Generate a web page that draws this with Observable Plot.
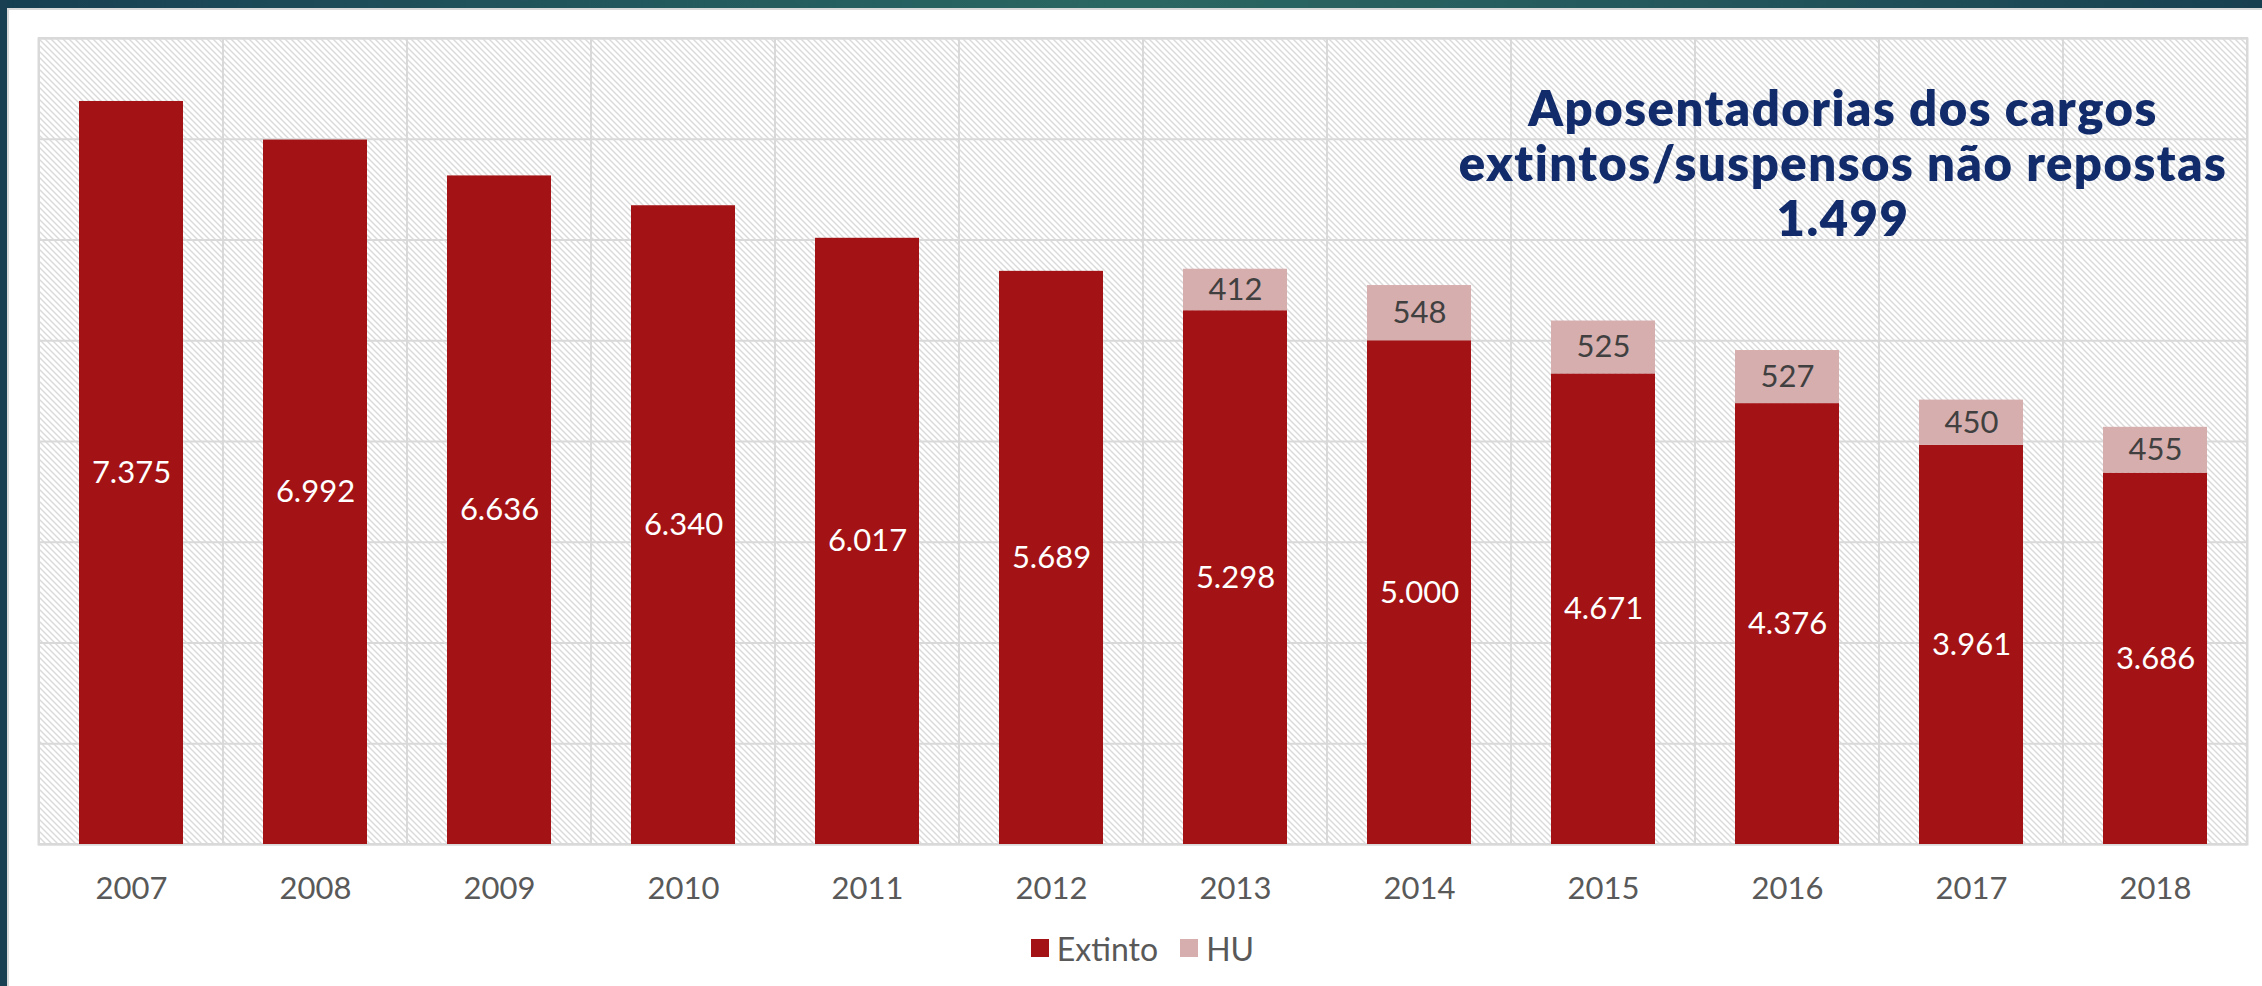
<!DOCTYPE html>
<html>
<head>
<meta charset="utf-8">
<script src="https://cdn.jsdelivr.net/npm/d3@7"></script>
<script src="https://cdn.jsdelivr.net/npm/@observablehq/plot@0.6"></script>
<style>
  html, body { margin: 0; padding: 0; background: #fff; overflow: hidden; }
  #page { position: relative; width: 2262px; height: 986px; background: #fff; font-family: Lato, "Open Sans", sans-serif; }
  #chart { position: absolute; left: 0; top: 0; }
  #chart svg { background: transparent; }
  .band-top { position: absolute; left: 0; top: 0; width: 2262px; height: 8px;
    background: linear-gradient(90deg, #173f52 0%, #235a5e 30%, #2b6762 50%, #23575c 75%, #173f50 100%); z-index: 3; }
  .band-left { position: absolute; left: 0; top: 0; width: 7px; height: 986px; background: #183f52; z-index: 3; }
  .line-top { position: absolute; left: 7px; top: 8px; width: 2255px; height: 2px; background: #d9d9d9; z-index: 2; }
  .line-left { position: absolute; left: 7px; top: 8px; width: 2px; height: 978px; background: #d9d9d9; z-index: 2; }
  #title { position: absolute; left: 1843px; top: 80px; transform: translateX(-50%); text-align: center;
    font-family: Lato, sans-serif; font-weight: 800; font-size: 49px; letter-spacing: 1.5px; line-height: 55px; color: #112b6b; white-space: nowrap; z-index: 4; }
  #legend { position: absolute; left: 38px; width: 2209px; top: 928px; height: 40px; display: flex; justify-content: center;
    align-items: center; font-family: Lato, sans-serif; font-size: 32px; color: #595959; z-index: 4; }
  #legend .item { display: flex; align-items: center; margin: 0 11px; }
  #legend .sw { width: 18px; height: 18px; margin-right: 8px; }
</style>
</head>
<body>
<div id="page">
  <div id="chart"></div>
  <div class="band-top"></div>
  <div class="band-left"></div>
  <div class="line-top"></div>
  <div class="line-left"></div>
  <div id="title">Aposentadorias dos cargos<br>extintos/suspensos não repostas<br>1.499</div>
  <div id="legend"></div>
</div>
<script>
const years = [2007, 2008, 2009, 2010, 2011, 2012, 2013, 2014, 2015, 2016, 2017, 2018];
const extinto = [7375, 6992, 6636, 6340, 6017, 5689, 5298, 5000, 4671, 4376, 3961, 3686];
const hu = [null, null, null, null, null, null, 412, 548, 525, 527, 450, 455];
const seriesNames = ["Extinto", "HU"];
const seriesColors = ["#a31214", "#d7aeae"];
const yTicks = [0, 1000, 2000, 3000, 4000, 5000, 6000, 7000, 8000];

const fmt = v => d3.format(",")(v).replace(/,/g, ".");

const rows = [];
years.forEach((y, i) => {
  rows.push({year: y, series: "Extinto", value: extinto[i]});
  if (hu[i] != null) rows.push({year: y, series: "HU", value: hu[i]});
});
const extLabels = years.map((y, i) => ({year: y, mid: extinto[i] / 2, text: fmt(extinto[i])}));
const huLabels = years.map((y, i) => hu[i] == null ? null : ({year: y, mid: extinto[i] + hu[i] / 2, text: fmt(hu[i])})).filter(d => d);

const chart = Plot.plot({
  width: 2262,
  height: 910,
  marginLeft: 38,
  marginRight: 15,
  marginTop: 38,
  marginBottom: 66,
  style: {fontFamily: "Lato, sans-serif", fontSize: "31px", color: "#595959", background: "transparent"},
  x: {domain: years, padding: 0, label: null, tickSize: 0, tickPadding: 32, tickFormat: d => String(d)},
  y: {domain: [0, 8000], axis: null},
  color: {domain: seriesNames, range: seriesColors},
  marks: [
    Plot.barY(years, {x: d => d, y1: 0, y2: 8000, fill: "url(#hatch)", stroke: "#d9d9d9", strokeWidth: 2}),
    Plot.gridY(yTicks, {stroke: "#d9d9d9", strokeOpacity: 1, strokeWidth: 2}),
    Plot.frame({stroke: "#d9d9d9", strokeWidth: 2}),
    Plot.barY(rows, {x: "year", y: "value", fill: "series", insetLeft: 40, insetRight: 40}),
    Plot.text(extLabels, {x: "year", y: "mid", text: "text", fill: "white", fontSize: 31}),
    Plot.text(huLabels, {x: "year", y: "mid", text: "text", fill: "#404040", fontSize: 31})
  ]
});

// hatch pattern definition
const ns = "http://www.w3.org/2000/svg";
const defs = document.createElementNS(ns, "defs");
const pat = document.createElementNS(ns, "pattern");
pat.setAttribute("id", "hatch");
pat.setAttribute("patternUnits", "userSpaceOnUse");
pat.setAttribute("width", "6");
pat.setAttribute("height", "6");
const bg = document.createElementNS(ns, "rect");
bg.setAttribute("width", "6"); bg.setAttribute("height", "6"); bg.setAttribute("fill", "#ffffff");
pat.appendChild(bg);
const p = document.createElementNS(ns, "path");
p.setAttribute("d", "M-1,-1L7,7M-1,5L1,7M5,-1L7,1");
p.setAttribute("stroke", "#dadada");
p.setAttribute("stroke-width", "1.4");
pat.appendChild(p);
defs.appendChild(pat);
chart.insertBefore(defs, chart.firstChild);

document.getElementById("chart").appendChild(chart);

const legend = document.getElementById("legend");
seriesNames.forEach((s, i) => {
  const item = document.createElement("div");
  item.className = "item";
  const sw = document.createElement("span");
  sw.className = "sw";
  sw.style.background = seriesColors[i];
  const t = document.createElement("span");
  t.textContent = s;
  item.appendChild(sw); item.appendChild(t);
  legend.appendChild(item);
});
</script>
</body>
</html>
